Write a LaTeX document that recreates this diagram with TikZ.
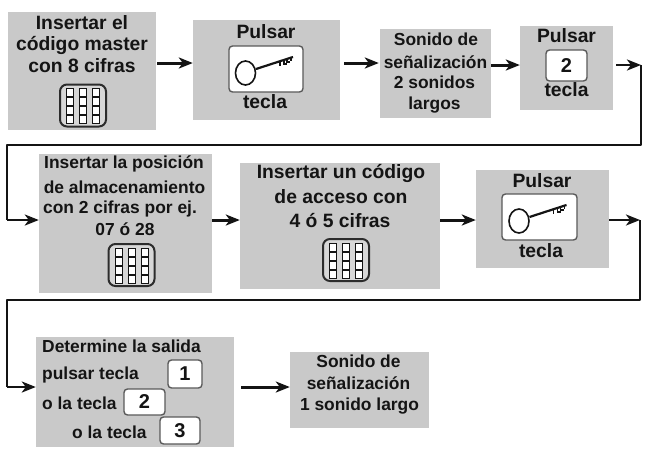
\documentclass[tikz,border=0pt]{standalone}
\usepackage{fontspec}
\setmainfont{Liberation Sans}
\usetikzlibrary{arrows.meta,calc}
\definecolor{boxgray}{HTML}{C9C9C9}
\definecolor{ink}{HTML}{141414}
\tikzset{
  panel/.style={fill=boxgray,draw=none,inner sep=0pt},
  label/.style={font=\fontsize{19.3}{21}\selectfont\bfseries,text=ink,inner sep=0pt,anchor=center},
  small/.style={label,font=\fontsize{17.4}{19}\selectfont\bfseries},
  leftlabel/.style={small,anchor=west},
  keycap/.style={draw=ink!70,fill=white,line width=1.4pt,rounded corners=3.5pt,inner sep=0pt,
    font=\fontsize{20}{22}\selectfont\bfseries,text=ink},
  padframe/.style={draw=ink!90,fill=boxgray!75,line width=2pt,rounded corners=7pt,inner sep=0pt,minimum width=46pt,minimum height=42pt},
  flow/.style={draw=ink,line width=3pt,-{Stealth[length=14pt,width=11pt,inset=4pt]}},
  return/.style={draw=ink,line width=2.6pt,-{Stealth[length=14pt,width=11pt,inset=4pt]}},
  pics/keyicon/.style={code={
    \draw[ink,line width=1.6pt] (-20.5,4) ellipse (10pt and 12pt);
    \draw[ink,line width=2.2pt] (-10,0) -- (27,-12);
    \draw[ink,line width=1.4pt] (14,-8) -- (14,-3.5) (18,-9) -- (18,-5) -- (21,-5) (21,-10) -- (21,-7) -- (24,-7) (25,-11) -- (25,-8);
  }},
  pics/padicon/.style={code={
    \foreach \cx in {-13,0,13}{
      \foreach \cy in {-13,-4,5,14}{
        \draw[ink,fill=white,line width=1pt] (\cx-3.5,\cy-4) rectangle (\cx+3.5,\cy+4);
      }
    }
  }}
}
\begin{document}
\begin{tikzpicture}[x=1pt,y=-1pt]
\useasboundingbox (0,0) rectangle (648,450);
\fill[white] (0,0) rectangle (648,450);

% panels
\node[panel,minimum width=148pt,minimum height=118pt] (A) at (82,71) {};
\node[panel,minimum width=147pt,minimum height=100pt] (B) at (266.5,70) {};
\node[panel,minimum width=111pt,minimum height=89pt] (C) at (435.5,73.5) {};
\node[panel,minimum width=93pt,minimum height=84pt] (D) at (566.5,68) {};
\node[panel,minimum width=173pt,minimum height=139pt] (E) at (125.5,223.5) {};
\node[panel,minimum width=200pt,minimum height=126pt] (F) at (340,226) {};
\node[panel,minimum width=133pt,minimum height=98pt] (G) at (542.5,219) {};
\node[panel,minimum width=198pt,minimum height=110pt] (H) at (135,392) {};
\node[panel,minimum width=139pt,minimum height=76pt] (I) at (359.5,390) {};

% panel A
\node[label] (a1) at (82,23) {Insertar el};
\node[label] (a2) at (82,45.5) {código master};
\node[label] (a3) at (82,66) {con 8 cifras};
\node[padframe] (apad) at (83,105.5) {};
\pic at (apad.center) {padicon};

% panel B
\node[label] (b1) at (266,31.5) {Pulsar};
\node[keycap,minimum width=74pt,minimum height=46pt] (bkey) at (266,69) {};
\pic at (bkey.center) {keyicon};
\node[label] (b2) at (265,102) {tecla};

% panel C
\node[small] (c1) at (436,39.5) {Sonido de};
\node[small] (c2) at (435.5,62) {señalización};
\node[small] (c3) at (434.5,82.5) {2 sonidos};
\node[small] (c4) at (434.5,105) {largos};

% panel D
\node[label] (d1) at (566.5,36) {Pulsar};
\node[keycap,minimum width=41pt,minimum height=31pt] (dkey) at (566.5,65.5) {2};
\node[label] (d2) at (566.5,89.5) {tecla};

% panel E
\node[small] (e1) at (124,164) {Insertar la posición};
\node[small] (e2) at (124.5,187) {de almacenamiento};
\node[small] (e3) at (120,209) {con 2 cifras por ej.};
\node[small] (e4) at (125,229.5) {07 ó 28};
\node[padframe] (epad) at (131.5,265) {};
\pic at (epad.center) {padicon};

% panel F
\node[label] (f1) at (341,173) {Insertar un código};
\node[label] (f2) at (341,196.5) {de acceso con};
\node[label] (f3) at (340,220.5) {4 ó 5 cifras};
\node[padframe] (fpad) at (346,260) {};
\pic at (fpad.center) {padicon};

% panel G
\node[label] (g1) at (542,181) {Pulsar};
\node[keycap,minimum width=75pt,minimum height=46pt] (gkey) at (539.5,217) {};
\pic at (gkey.center) {keyicon};
\node[label] (g2) at (541,250.5) {tecla};

% panel H
\node[leftlabel] (h1) at (42,346) {Determine la salida};
\node[leftlabel] (h2) at (42,375) {pulsar tecla};
\node[keycap,minimum width=34pt,minimum height=28pt] (h1key) at (185,374) {1};
\node[leftlabel] (h3) at (42,403) {o la tecla};
\node[keycap,minimum width=41pt,minimum height=26pt] (h2key) at (144.5,402) {2};
\node[leftlabel] (h4) at (72,432.5) {o la tecla};
\node[keycap,minimum width=40pt,minimum height=27pt] (h3key) at (180,430.5) {3};

% panel I
\node[small] (i1) at (358.5,361) {Sonido de};
\node[small] (i2) at (358.5,383.5) {señalización};
\node[small] (i3) at (359.5,406) {1 sonido largo};

% connector levels
\coordinate (r1) at (0,63);
\coordinate (r1b) at (0,65);
\coordinate (r1ret) at (641,145);
\coordinate (r2in) at (7,145);
\coordinate (r2) at (0,220);
\coordinate (r2ret) at (640,300);
\coordinate (r3in) at (7,300);
\coordinate (r3) at (0,387);
\coordinate (dturn) at (641,65);
\coordinate (gturn) at (640,220);

% connectors
\draw[flow] (A.east |- r1) ++(1,0) -- (B.west |- r1);
\draw[flow] ($(B.east |- r1)+(4,0)$) -- ($(C.west |- r1)+(-1,0)$);
\draw[flow] (C.east |- r1b) -- (D.west |- r1b);
\draw[return] ($(D.east |- r1b)+(3,0)$) -- (dturn) ;
\draw[draw=ink,line width=2.2pt,line join=round] (dturn) -- (r1ret) -- (r2in) -- (r2in |- r2);
\draw[return] (r2in |- r2) -- (E.west |- r2);
\draw[flow] (E.east |- r2) -- (F.west |- r2);
\draw[flow] (F.east |- r2) -- (G.west |- r2);
\draw[return] (G.east |- gturn) -- (gturn);
\draw[draw=ink,line width=2.2pt,line join=round] (gturn) -- (r2ret) -- (r3in) -- (r3in |- r3);
\draw[return] (r3in |- r3) -- (H.west |- r3);
\draw[flow] ($(H.east |- r3)+(7,0)$) -- (I.west |- r3);
\end{tikzpicture}
\end{document}
